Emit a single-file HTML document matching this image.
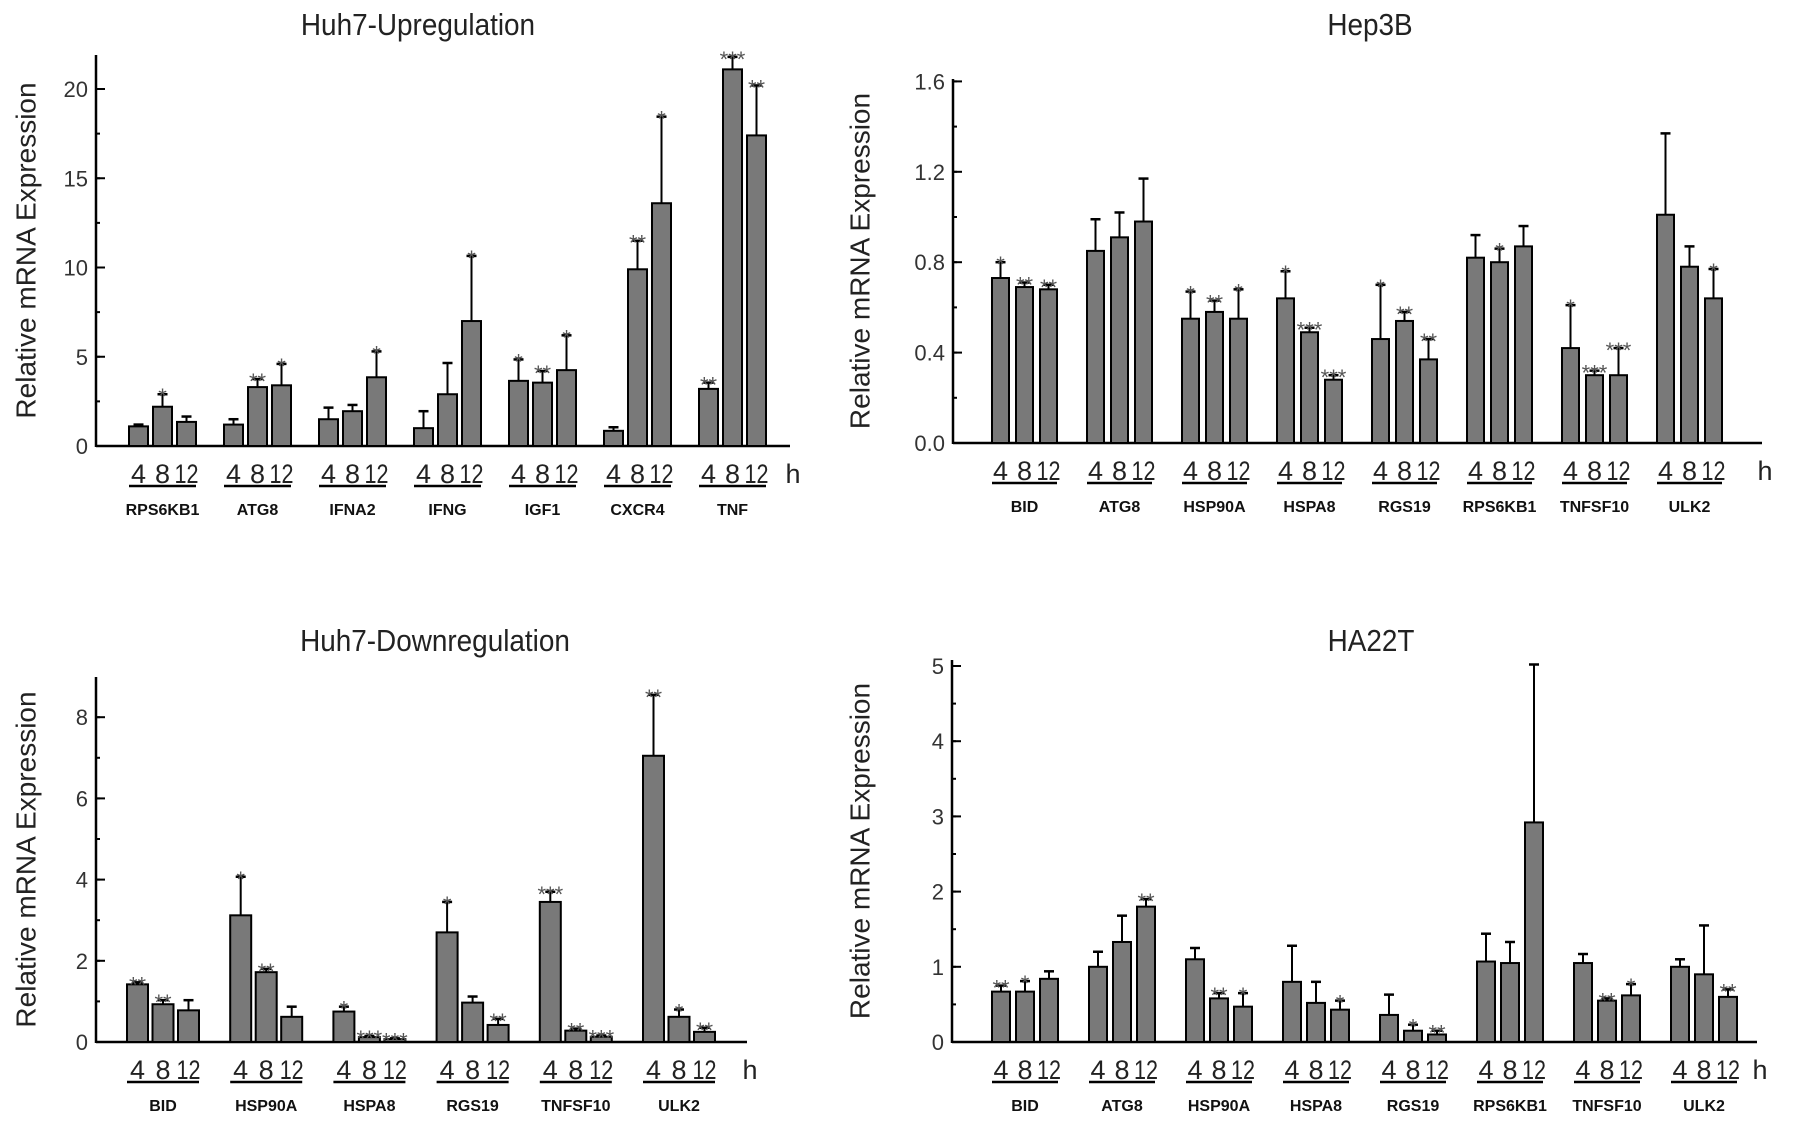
<!DOCTYPE html>
<html><head><meta charset="utf-8"><style>
html,body{margin:0;padding:0;background:#fff;}
svg{display:block;font-family:"Liberation Sans",sans-serif;}
</style></head><body>
<svg id="fig" width="1795" height="1126" viewBox="0 0 1795 1126" xmlns="http://www.w3.org/2000/svg"></svg>
<script>
// ---- Panel 1: Huh7-Upregulation ----
const p1Genes = ["RPS6KB1","ATG8","IFNA2","IFNG","IGF1","CXCR4","TNF"];
const p1Means = [[1.1,2.2,1.35],[1.2,3.3,3.4],[1.5,1.95,3.85],[1.0,2.9,7.0],[3.65,3.55,4.25],[0.85,9.9,13.6],[3.2,21.1,17.4]];
const p1Errs  = [[0.1,0.7,0.3],[0.3,0.45,1.2],[0.65,0.35,1.45],[0.95,1.75,3.65],[1.2,0.65,1.95],[0.2,1.6,4.85],[0.35,0.7,2.8]];
const p1Stars = [["","*",""],["","**","*"],["","","*"],["","","*"],["*","**","*"],["","**","*"],["**","***","**"]];
const p1Ticks = [0,5,10,15,20];
const p1TickLabels = ["0","5","10","15","20"];

// ---- Panel 2: Hep3B ----
const p2Genes = ["BID","ATG8","HSP90A","HSPA8","RGS19","RPS6KB1","TNFSF10","ULK2"];
const p2Means = [[0.73,0.69,0.68],[0.85,0.91,0.98],[0.55,0.58,0.55],[0.64,0.49,0.28],[0.46,0.54,0.37],[0.82,0.80,0.87],[0.42,0.30,0.30],[1.01,0.78,0.64]];
const p2Errs  = [[0.07,0.02,0.02],[0.14,0.11,0.19],[0.12,0.05,0.13],[0.12,0.02,0.02],[0.24,0.04,0.09],[0.10,0.06,0.09],[0.19,0.02,0.12],[0.36,0.09,0.13]];
const p2Stars = [["*","**","**"],["","",""],["*","**","*"],["*","***","***"],["*","**","**"],["","*",""],["*","***","***"],["","","*"]];
const p2Ticks = [0,0.4,0.8,1.2,1.6];
const p2TickLabels = ["0.0","0.4","0.8","1.2","1.6"];

// ---- Panel 3: Huh7-Downregulation ----
const p3Genes = ["BID","HSP90A","HSPA8","RGS19","TNFSF10","ULK2"];
const p3Means = [[1.42,0.93,0.78],[3.12,1.72,0.62],[0.75,0.12,0.07],[2.7,0.97,0.42],[3.45,0.28,0.13],[7.05,0.62,0.25]];
const p3Errs  = [[0.05,0.1,0.25],[0.95,0.08,0.25],[0.12,0.03,0.02],[0.75,0.15,0.15],[0.25,0.05,0.03],[1.5,0.18,0.1]];
const p3Stars = [["**","**",""],["*","**",""],["*","***","***"],["*","","**"],["***","**","***"],["**","*","**"]];
const p3Ticks = [0,2,4,6,8];
const p3TickLabels = ["0","2","4","6","8"];

// ---- Panel 4: HA22T ----
const p4Genes = ["BID","ATG8","HSP90A","HSPA8","RGS19","RPS6KB1","TNFSF10","ULK2"];
const p4Means = [[0.67,0.67,0.84],[1.0,1.33,1.8],[1.1,0.58,0.47],[0.8,0.52,0.43],[0.36,0.15,0.1],[1.07,1.05,2.92],[1.05,0.55,0.62],[1.0,0.9,0.6]];
const p4Errs  = [[0.08,0.14,0.1],[0.2,0.35,0.1],[0.15,0.07,0.18],[0.48,0.28,0.12],[0.27,0.08,0.05],[0.37,0.28,2.1],[0.12,0.03,0.15],[0.1,0.65,0.1]];
const p4Stars = [["**","*",""],["","","**"],["","**","*"],["","","*"],["","*","**"],["","",""],["","**","*"],["","","**"]];
const p4Ticks = [0,1,2,3,4,5];
const p4TickLabels = ["0","1","2","3","4","5"];

const hours = ["4","8","12"];
const NS = "http://www.w3.org/2000/svg";
const svg = document.getElementById("fig");
function mk(tag, attrs, parent){
  const e = document.createElementNS(NS, tag);
  for (const k in attrs) e.setAttribute(k, attrs[k]);
  (parent||svg).appendChild(e);
  return e;
}
const panels = [
  {id:"huh7-up", title:"Huh7-Upregulation", tx:418, ty:35, genes:p1Genes, means:p1Means, errs:p1Errs, stars:p1Stars, ticks:p1Ticks, tl:p1TickLabels,
   axisX:96, axisEnd:790, zero:446, ppu:17.85, top:55, x0:129, gs:95, step:24, w:19, ytitleX:28, minor:2.5},
  {id:"hep3b", title:"Hep3B", tx:1370, ty:35, genes:p2Genes, means:p2Means, errs:p2Errs, stars:p2Stars, ticks:p2Ticks, tl:p2TickLabels,
   axisX:953, axisEnd:1762, zero:443, ppu:226, top:79, x0:992, gs:95, step:24, w:17, ytitleX:862, minor:0.2},
  {id:"huh7-down", title:"Huh7-Downregulation", tx:435, ty:651, genes:p3Genes, means:p3Means, errs:p3Errs, stars:p3Stars, ticks:p3Ticks, tl:p3TickLabels,
   axisX:96, axisEnd:747, zero:1042, ppu:40.6, top:677, x0:127, gs:103.2, step:25.5, w:21, ytitleX:28, minor:1},
  {id:"ha22t", title:"HA22T", tx:1371, ty:651, genes:p4Genes, means:p4Means, errs:p4Errs, stars:p4Stars, ticks:p4Ticks, tl:p4TickLabels,
   axisX:952, axisEnd:1757, zero:1042, ppu:75.2, top:660, x0:992, gs:97, step:24, w:18, ytitleX:862, minor:0.5}
];
panels.forEach(p=>{
  const g = mk("g",{});
  
  
  const yS = v => p.zero - v*p.ppu;
  const xS = (gi,bi) => p.x0 + gi*p.gs + bi*p.step;
  const t = mk("text",{x:p.tx,y:p.ty,"text-anchor":"middle","font-size":31,fill:"#222",transform:`translate(${p.tx},0) scale(0.9,1) translate(${-p.tx},0)`},g);
  t.textContent = p.title;
  
  
  const cy = (p.top + p.zero)/2;
  const yt = mk("text",{x:p.ytitleX,y:cy,"text-anchor":"middle","font-size":28,fill:"#222",transform:`rotate(-90 ${p.ytitleX} ${cy})`,"dominant-baseline":"middle"},g);
  yt.textContent = "Relative mRNA Expression";
  
  
  const ya = mk("line",{x1:p.axisX,y1:p.top,x2:p.axisX,y2:p.zero+1,stroke:"#000","stroke-width":2.5},g);
  
  
  const xa = mk("line",{x1:p.axisX,y1:p.zero,x2:p.axisEnd,y2:p.zero,stroke:"#000","stroke-width":2.5},g);
  
  
  const maxT = p.ticks[p.ticks.length-1];
  for (let v=0; v<=maxT+1e-9; v+=p.minor){
    mk("line",{x1:p.axisX,y1:yS(v),x2:p.axisX+4,y2:yS(v),stroke:"#000","stroke-width":2},g);
  }
  p.ticks.forEach((v,i)=>{
    mk("line",{x1:p.axisX,y1:yS(v),x2:p.axisX+9,y2:yS(v),stroke:"#000","stroke-width":2},g);
    const tl = mk("text",{x:p.axisX-8,y:yS(v)+8,"text-anchor":"end","font-size":22,fill:"#333"},g);
    tl.textContent = p.tl[i];
    
    
  });
  p.genes.forEach((gene,gi)=>{
    for (let bi=0; bi<3; bi++){
      const v = p.means[gi][bi], e = p.errs[gi][bi];
      const x = xS(gi,bi), cx = x + p.w/2;
      const bar = mk("rect",{x:x,y:yS(v),width:p.w,height:yS(0)-yS(v),fill:"#797979",stroke:"#000","stroke-width":2},g);
      
      
      const ey = yS(v+e);
      mk("line",{x1:cx,y1:yS(v),x2:cx,y2:ey,stroke:"#000","stroke-width":2},g);
      mk("line",{x1:cx-5,y1:ey,x2:cx+5,y2:ey,stroke:"#000","stroke-width":2.5},g);
      if (p.stars[gi][bi]){
        const st = mk("text",{x:cx,y:ey+10,"text-anchor":"middle","font-size":22,fill:"#555"},g);
        st.textContent = p.stars[gi][bi];
        
        
      }
      const ht = mk("text",{x:cx,y:p.zero+37,"text-anchor":"middle","font-size":27,fill:"#222"},g);
      if (bi===2){ ht.setAttribute("textLength", 24); ht.setAttribute("lengthAdjust","spacingAndGlyphs"); }
      ht.textContent = hours[bi];
      
      
    }
    const gx1 = xS(gi,0), gx2 = xS(gi,2)+p.w;
    mk("line",{x1:gx1,y1:p.zero+40,x2:gx2,y2:p.zero+40,stroke:"#000","stroke-width":2.5},g);
    const gl = mk("text",{x:(gx1+gx2)/2,y:p.zero+69,"text-anchor":"middle","font-size":16,"font-weight":"bold",fill:"#111"},g);
    gl.textContent = gene;
    
    
  });
  const h = mk("text",{x:p.axisEnd+3,y:p.zero+37,"text-anchor":"middle","font-size":27,fill:"#222"},g);
  h.textContent = "h";
  
  
});
</script>
</body></html>
